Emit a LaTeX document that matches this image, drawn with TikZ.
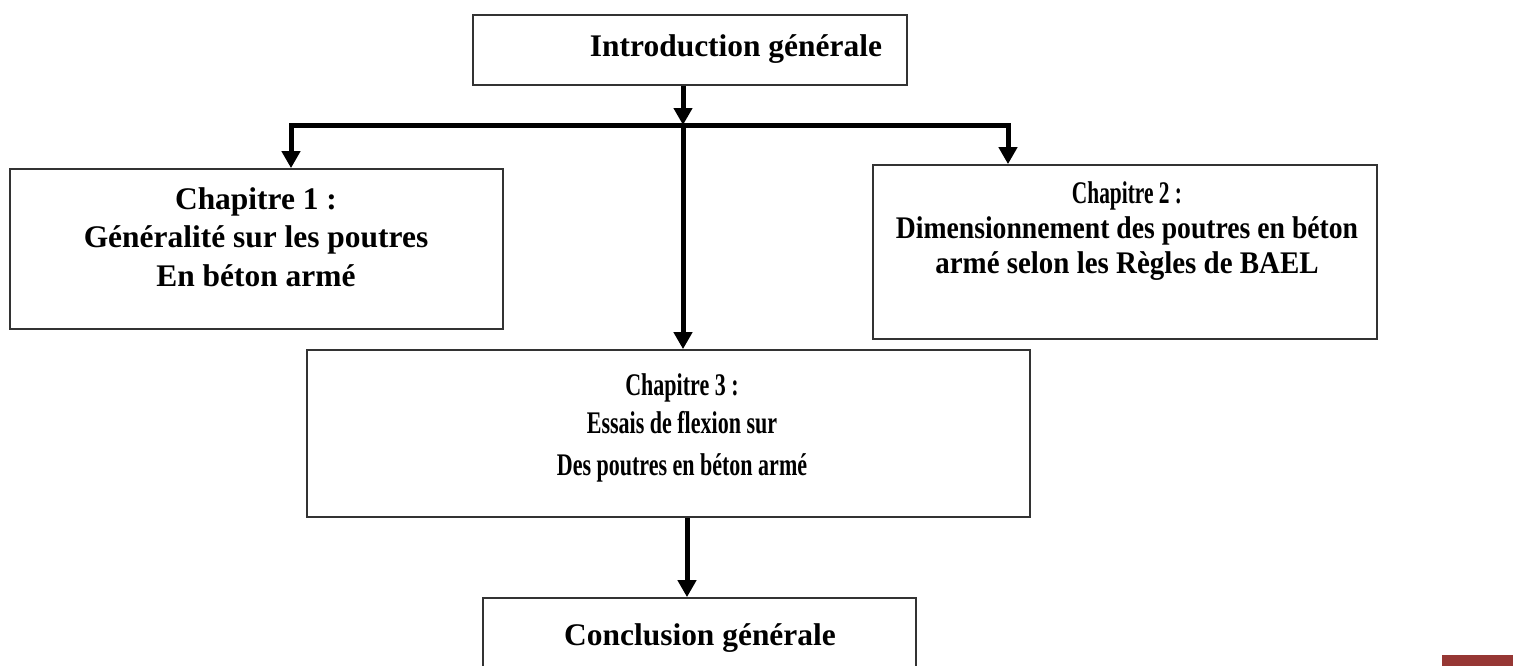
\documentclass[tikz,border=0pt]{standalone}
\usepackage{fontspec}
\setmainfont{Liberation Serif}
\newfontfamily\chaptight{Liberation Serif}[FakeStretch=0.68]
\newfontfamily\chapcond{Liberation Serif}[FakeStretch=0.88]
\newfontfamily\chapwide{Liberation Serif}[FakeStretch=0.92]
\newfontfamily\chapnarrow{Liberation Serif}[FakeStretch=0.70]
\usetikzlibrary{arrows.meta}
\definecolor{pagered}{RGB}{150,55,52}

\begin{document}
\begin{tikzpicture}[x=0.02cm,y=-0.02cm,->,>={Triangle[length=0.34cm,width=0.36cm]},
  line width=0.1cm,line join=miter,
  box node/.style={rectangle,draw=black!80,line width=0.035cm,inner sep=0pt},
  text node/.style={align=center,inner sep=0pt,font=\bfseries\fontsize{17.9}{21.9}\selectfont}]

  \useasboundingbox (0,0) rectangle (1522,666);

  % boxes
  \node[box node,minimum width=8.68cm,minimum height=1.4cm]  (intro) at (690,50) {};
  \node[box node,minimum width=9.86cm,minimum height=3.2cm]  (c1) at (256.5,249) {};
  \node[box node,minimum width=10.08cm,minimum height=3.48cm] (c2) at (1125,252) {};
  \node[box node,minimum width=14.46cm,minimum height=3.34cm] (c3) at (668.5,433.5) {};
  \node[box node,minimum width=8.66cm,minimum height=1.7cm]  (concl) at (699.5,640.5) {};

  % texts
  \node[text node] (introtxt) at (736,49) {Introduction générale};
  \node[text node] (c1txt) at (256,237) {Chapitre 1 :\\ Généralité sur les poutres\\ En béton armé};
  \node[text node] (c2txt) at (1127,231) {\chaptight Chapitre 2 :\\[-2pt]
    \chapcond Dimensionnement des poutres en béton\\[-2pt]
    \chapwide armé selon les Règles de BAEL};
  \node[text node] (c3txt) at (682,428) {\chapnarrow Chapitre 3 :\\
    \chapnarrow Essais de flexion sur\\[2pt]
    \chapnarrow Des poutres en béton armé};
  \node[text node] (concltxt) at (700,638) {Conclusion générale};

  % arrows
  \coordinate (hub) at (683,125);
  \coordinate (barL) at (291,125);
  \coordinate (barR) at (1008,125);
  \coordinate (lowx) at (687,560);
  \draw (intro.south -| hub) -- (hub);
  \draw[<->] (barL |- c1.north) -- (barL) -- (barR) -- (barR |- c2.north);
  \draw (hub) -- (hub |- c3.north);
  \draw (c3.south -| lowx) -- (concl.north -| lowx);

  % page mark
  \fill[-,pagered] (1442,655) rectangle (1513,666);

\end{tikzpicture}
\end{document}
